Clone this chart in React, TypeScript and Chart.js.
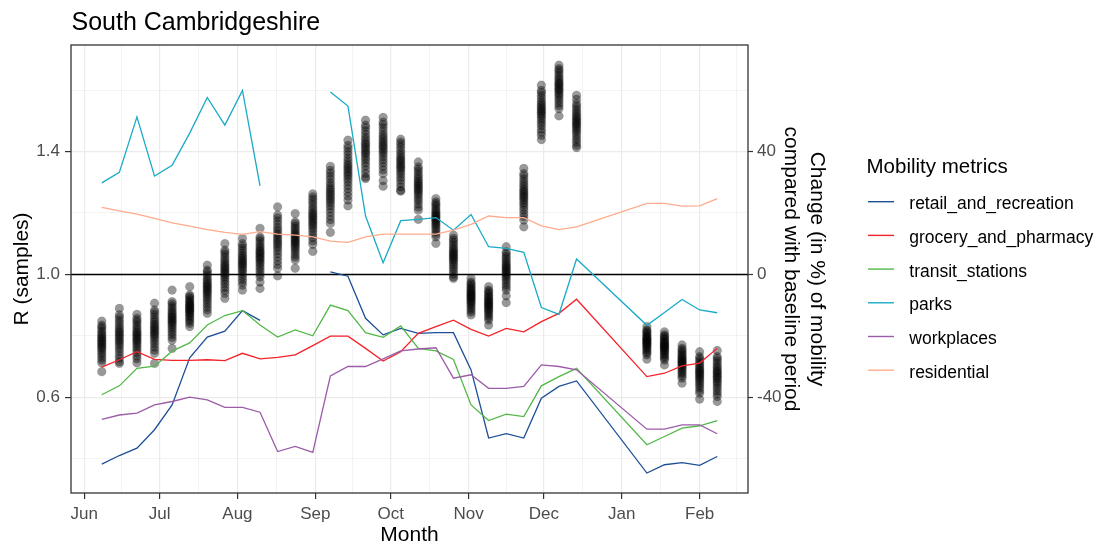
import React, { useEffect, useRef } from 'react';
import { Chart, registerables } from 'chart.js';

Chart.register(...registerables);

// ---- data ----
// days since 1 June 2020
const weekDays = [7, 14, 21, 28, 35, 42, 49, 56, 63, 70, 77, 84, 91, 98, 105, 112, 119, 126, 133, 140, 147, 154, 161, 168, 175, 182, 189, 196, 224, 231, 238, 245, 252];
const monthTickDays = [0, 30, 61, 92, 122, 153, 183, 214, 245];
const monthTickLabels = ['Jun', 'Jul', 'Aug', 'Sep', 'Oct', 'Nov', 'Dec', 'Jan', 'Feb'];
const minorDayBreaks = [15, 45.5, 76.5, 107, 137.5, 168, 198.5, 229.5, 259.5];
const rMajorTicks = [0.6, 1.0, 1.4];
const rMinorTicks = [0.4, 0.8, 1.2, 1.6];
const pctTicks = [-40, 0, 40];
const referenceR = 1.0;

const rSamples: number[][] = [
  [0.683, 0.712, 0.721, 0.729, 0.738, 0.745, 0.753, 0.759, 0.765, 0.770, 0.775, 0.780, 0.785, 0.790, 0.795, 0.801, 0.807, 0.814, 0.822, 0.829, 0.835, 0.848],
  [0.710, 0.716, 0.727, 0.737, 0.748, 0.757, 0.766, 0.774, 0.781, 0.787, 0.794, 0.800, 0.806, 0.812, 0.818, 0.825, 0.833, 0.842, 0.851, 0.860, 0.868, 0.889],
  [0.712, 0.725, 0.734, 0.744, 0.753, 0.761, 0.769, 0.775, 0.782, 0.787, 0.792, 0.798, 0.803, 0.808, 0.813, 0.820, 0.827, 0.835, 0.843, 0.850, 0.857, 0.870],
  [0.710, 0.743, 0.753, 0.763, 0.773, 0.781, 0.790, 0.797, 0.804, 0.809, 0.815, 0.821, 0.826, 0.832, 0.838, 0.845, 0.852, 0.860, 0.869, 0.877, 0.884, 0.906],
  [0.759, 0.786, 0.795, 0.804, 0.812, 0.820, 0.827, 0.834, 0.840, 0.845, 0.850, 0.855, 0.860, 0.865, 0.870, 0.876, 0.882, 0.890, 0.897, 0.905, 0.911, 0.949],
  [0.830, 0.840, 0.847, 0.853, 0.860, 0.865, 0.871, 0.875, 0.880, 0.884, 0.887, 0.891, 0.895, 0.899, 0.902, 0.907, 0.912, 0.917, 0.923, 0.928, 0.933, 0.960],
  [0.873, 0.884, 0.893, 0.902, 0.911, 0.919, 0.927, 0.933, 0.940, 0.945, 0.950, 0.956, 0.961, 0.966, 0.971, 0.978, 0.984, 0.992, 1.000, 1.008, 1.014, 1.030],
  [0.922, 0.938, 0.948, 0.958, 0.968, 0.976, 0.985, 0.992, 0.999, 1.004, 1.010, 1.016, 1.021, 1.027, 1.033, 1.040, 1.047, 1.055, 1.064, 1.072, 1.079, 1.100],
  [0.949, 0.965, 0.975, 0.984, 0.993, 1.002, 1.010, 1.016, 1.023, 1.029, 1.034, 1.039, 1.045, 1.050, 1.056, 1.062, 1.069, 1.077, 1.085, 1.093, 1.100, 1.117],
  [0.954, 0.975, 0.992, 1.001, 1.010, 1.019, 1.027, 1.035, 1.041, 1.048, 1.053, 1.058, 1.064, 1.069, 1.074, 1.079, 1.086, 1.092, 1.100, 1.108, 1.116, 1.122, 1.150],
  [0.995, 1.020, 1.032, 1.044, 1.056, 1.067, 1.077, 1.086, 1.094, 1.101, 1.108, 1.115, 1.122, 1.129, 1.136, 1.145, 1.153, 1.164, 1.174, 1.184, 1.193, 1.220],
  [1.020, 1.047, 1.056, 1.064, 1.073, 1.081, 1.088, 1.094, 1.100, 1.105, 1.110, 1.115, 1.120, 1.125, 1.130, 1.136, 1.143, 1.150, 1.157, 1.165, 1.171, 1.198],
  [1.075, 1.098, 1.109, 1.120, 1.130, 1.140, 1.149, 1.157, 1.164, 1.170, 1.177, 1.183, 1.189, 1.195, 1.201, 1.209, 1.217, 1.226, 1.235, 1.244, 1.252, 1.262],
  [1.137, 1.166, 1.178, 1.190, 1.202, 1.213, 1.223, 1.232, 1.240, 1.247, 1.254, 1.261, 1.268, 1.275, 1.282, 1.291, 1.299, 1.310, 1.320, 1.330, 1.339, 1.352],
  [1.223, 1.242, 1.255, 1.267, 1.279, 1.290, 1.301, 1.310, 1.319, 1.326, 1.333, 1.340, 1.347, 1.354, 1.361, 1.370, 1.379, 1.390, 1.400, 1.411, 1.420, 1.437],
  [1.312, 1.317, 1.329, 1.341, 1.353, 1.363, 1.373, 1.381, 1.390, 1.396, 1.403, 1.410, 1.417, 1.424, 1.430, 1.439, 1.447, 1.457, 1.467, 1.478, 1.486, 1.502],
  [1.287, 1.305, 1.328, 1.340, 1.352, 1.363, 1.373, 1.383, 1.392, 1.400, 1.407, 1.414, 1.420, 1.427, 1.434, 1.441, 1.449, 1.457, 1.467, 1.478, 1.488, 1.496, 1.511],
  [1.271, 1.274, 1.285, 1.296, 1.307, 1.316, 1.326, 1.334, 1.342, 1.348, 1.354, 1.360, 1.367, 1.373, 1.379, 1.387, 1.395, 1.404, 1.414, 1.423, 1.431, 1.440],
  [1.179, 1.209, 1.219, 1.229, 1.239, 1.247, 1.256, 1.263, 1.270, 1.275, 1.281, 1.287, 1.292, 1.298, 1.304, 1.311, 1.318, 1.326, 1.335, 1.343, 1.350, 1.366],
  [1.101, 1.122, 1.130, 1.138, 1.146, 1.153, 1.160, 1.165, 1.171, 1.176, 1.180, 1.185, 1.189, 1.194, 1.198, 1.204, 1.210, 1.217, 1.224, 1.230, 1.236, 1.247],
  [0.987, 0.992, 1.001, 1.010, 1.018, 1.026, 1.033, 1.040, 1.046, 1.051, 1.056, 1.061, 1.066, 1.071, 1.076, 1.082, 1.088, 1.096, 1.103, 1.111, 1.117, 1.128],
  [0.868, 0.877, 0.884, 0.891, 0.898, 0.904, 0.909, 0.914, 0.919, 0.923, 0.927, 0.931, 0.935, 0.939, 0.943, 0.948, 0.953, 0.958, 0.964, 0.970, 0.975, 0.987],
  [0.835, 0.851, 0.858, 0.865, 0.872, 0.878, 0.883, 0.888, 0.893, 0.897, 0.901, 0.905, 0.909, 0.913, 0.917, 0.922, 0.927, 0.932, 0.938, 0.944, 0.949, 0.960],
  [0.908, 0.930, 0.949, 0.958, 0.966, 0.975, 0.983, 0.990, 0.996, 1.002, 1.007, 1.012, 1.017, 1.022, 1.027, 1.032, 1.038, 1.045, 1.052, 1.059, 1.067, 1.073, 1.090],
  [1.155, 1.177, 1.188, 1.198, 1.209, 1.218, 1.227, 1.234, 1.242, 1.248, 1.254, 1.260, 1.266, 1.272, 1.278, 1.286, 1.293, 1.302, 1.311, 1.321, 1.328, 1.345],
  [1.439, 1.453, 1.463, 1.473, 1.484, 1.492, 1.501, 1.509, 1.516, 1.522, 1.528, 1.533, 1.539, 1.545, 1.551, 1.558, 1.565, 1.574, 1.583, 1.592, 1.599, 1.616],
  [1.516, 1.540, 1.549, 1.558, 1.567, 1.575, 1.583, 1.589, 1.596, 1.601, 1.606, 1.612, 1.617, 1.622, 1.627, 1.634, 1.640, 1.648, 1.656, 1.664, 1.670, 1.681],
  [1.413, 1.420, 1.430, 1.439, 1.448, 1.457, 1.465, 1.471, 1.478, 1.484, 1.489, 1.494, 1.500, 1.505, 1.511, 1.517, 1.524, 1.532, 1.540, 1.548, 1.556, 1.570, 1.583],
  [0.724, 0.738, 0.744, 0.749, 0.755, 0.760, 0.765, 0.769, 0.773, 0.776, 0.779, 0.783, 0.786, 0.789, 0.792, 0.796, 0.800, 0.805, 0.810, 0.815, 0.819, 0.830],
  [0.705, 0.721, 0.727, 0.732, 0.738, 0.743, 0.748, 0.752, 0.756, 0.760, 0.763, 0.766, 0.769, 0.773, 0.776, 0.780, 0.784, 0.789, 0.794, 0.799, 0.803, 0.813],
  [0.646, 0.662, 0.669, 0.676, 0.682, 0.688, 0.694, 0.699, 0.704, 0.708, 0.712, 0.715, 0.719, 0.723, 0.727, 0.732, 0.737, 0.743, 0.748, 0.754, 0.759, 0.770],
  [0.594, 0.613, 0.621, 0.630, 0.638, 0.645, 0.652, 0.658, 0.664, 0.669, 0.674, 0.679, 0.683, 0.688, 0.693, 0.699, 0.705, 0.712, 0.719, 0.726, 0.732, 0.748],
  [0.586, 0.602, 0.611, 0.620, 0.629, 0.637, 0.645, 0.651, 0.658, 0.663, 0.668, 0.674, 0.679, 0.684, 0.689, 0.696, 0.702, 0.710, 0.718, 0.726, 0.732, 0.752],
];

// mobility change (%) at each week, aligned with weekDays
const retailAndRecreation = [-61.8, -59, -56.6, -50.6, -42.5, -27.2, -20.4, -18.5, -11.8, -15, null, null, null, 0.8, -0.6, -14.3, -19.7, -17.6, -19.2, -19, -19, -31.1, -53.3, -51.9, -53.3, -40.3, -36.5, -34.7, -64.7, -62, -61.3, -62.2, -59.3];
const groceryAndPharmacy = [-30.2, -27.8, -25.2, -27.7, -28, -28, -27.8, -28.1, -25.7, -27.5, -27, -26.2, -23.2, -20.1, -20.1, -24.1, -28.2, -25.2, -19.2, -17, -14.9, -17.9, -20.1, -17.6, -18.7, -15.4, -12.7, -8.1, -33.3, -32.2, -29.8, -28.9, -24.1];
const transitStations = [-39.2, -36.3, -30.6, -29.9, -25, -22.3, -16.5, -13.4, -11.8, -16.5, -20.4, -18.1, -20, -10, -11.8, -19, -20.5, -16.8, -24.1, -24.9, -27.7, -42.5, -47.6, -45.5, -46.3, -36.3, -33.3, -30.6, -55.5, -52.8, -50.1, -49.3, -47.6];
const parks = [29.8, 33.2, 51.3, 32, 35.5, 46, 57.6, 48.6, 59.9, 28.8, null, null, null, 59.4, 54.8, 19, 3.8, 17.5, 17.9, 18.5, 14.4, 19.5, 9, 8.5, 7.2, -10.8, -13, 5, -16.6, -12.4, -8.2, -11.6, -12.5];
const workplaces = [-47.2, -45.8, -45.2, -42.5, -41.4, -40, -40.9, -43.3, -43.3, -44.9, -57.7, -56, -58, -33.1, -30, -30, -27.5, -24.9, -24.3, -23.9, -33.8, -32.7, -37.1, -37.1, -36.5, -29.5, -30, -31.1, -50.4, -50.4, -49, -49, -51.9];
const residential = [21.8, 20.7, 19.6, 18.2, 16.8, 15.7, 14.6, 13.7, 13, 13.9, 13.1, 12.8, 12.2, 10.8, 10.4, 12.2, 13.1, 13.1, 13.1, 13.1, 14.4, 16.3, 19, 18.5, 18.5, 15.8, 14.6, 15.5, 23.1, 23.1, 22.2, 22.3, 24.7];

const metricNames = ['retail_and_recreation', 'grocery_and_pharmacy', 'transit_stations', 'parks', 'workplaces', 'residential'];
const metricSeries = [retailAndRecreation, groceryAndPharmacy, transitStations, parks, workplaces, residential];
const metricColors = ['#1d4f97', '#f5222a', '#52b848', '#19aac6', '#9b5ca8', '#ffab8c'];

const FONT = '"Liberation Sans", Arial, Helvetica, sans-serif';
const R_MIN = 0.288;
const R_MAX = 1.747;

const near = (a: number, list: number[]) => list.some((v) => Math.abs(v - a) < 1e-6);

export default function App() {
  const canvasRef = useRef<HTMLCanvasElement | null>(null);

  useEffect(() => {
    if (!canvasRef.current) return;
    Chart.defaults.font.family = FONT;

    const scatterPoints: { x: number; y: number }[] = [];
    weekDays.forEach((d, i) => rSamples[i].forEach((v) => scatterPoints.push({ x: d, y: v })));

    const lineSets = metricSeries.map((vals, k) => ({
      type: 'line' as const,
      label: metricNames[k],
      data: weekDays.map((d, i) => ({ x: d, y: vals[i] })),
      yAxisID: 'y2',
      borderColor: metricColors[k],
      backgroundColor: metricColors[k],
      borderWidth: 1.3,
      pointRadius: 0,
      pointHoverRadius: 0,
      fill: false,
      tension: 0,
      spanGaps: false,
      order: 6 - k,
    }));

    const decor = {
      id: 'decor',
      beforeDatasetsDraw(chart: any) {
        const { ctx, chartArea, scales } = chart;
        const y = Math.round(scales.y.getPixelForValue(referenceR)) + 0.5;
        ctx.save();
        ctx.strokeStyle = '#000000';
        ctx.lineWidth = 1.3;
        ctx.beginPath();
        ctx.moveTo(chartArea.left, y);
        ctx.lineTo(chartArea.right, y);
        ctx.stroke();
        ctx.restore();
      },
      afterDraw(chart: any) {
        const { ctx, chartArea } = chart;
        ctx.save();
        // panel border
        ctx.strokeStyle = '#333333';
        ctx.lineWidth = 1.3;
        ctx.strokeRect(chartArea.left, chartArea.top, chartArea.right - chartArea.left, chartArea.bottom - chartArea.top);
        // title
        ctx.fillStyle = '#000000';
        ctx.textBaseline = 'alphabetic';
        ctx.textAlign = 'left';
        ctx.font = `25px ${FONT}`;
        ctx.fillText('South Cambridgeshire', 71.5, 29.5);
        // legend
        ctx.font = `20.5px ${FONT}`;
        ctx.fillText('Mobility metrics', 866.5, 172.7);
        ctx.font = `17.5px ${FONT}`;
        metricNames.forEach((name, k) => {
          const y = 201.7 + k * 33.7;
          ctx.strokeStyle = metricColors[k];
          ctx.lineWidth = 1.4;
          ctx.beginPath();
          ctx.moveTo(868, y);
          ctx.lineTo(894, y);
          ctx.stroke();
          ctx.fillStyle = '#000000';
          ctx.fillText(name, 909.3, y + 7.6);
        });
        ctx.restore();
      },
    };

    const chart = new Chart(canvasRef.current, {
      type: 'scatter',
      data: {
        datasets: [
          ...lineSets,
          {
            type: 'scatter' as const,
            label: 'R samples',
            data: scatterPoints,
            yAxisID: 'y',
            pointRadius: 4.4,
            pointHoverRadius: 4.4,
            backgroundColor: 'rgba(0,0,0,0.4)',
            borderColor: 'rgba(0,0,0,0.12)',
            borderWidth: 0.8,
            order: 20,
          },
        ] as any,
      },
      options: {
        animation: false,
        responsive: false,
        events: [],
        layout: { padding: { top: 45, left: 0, bottom: 0, right: 274 } },
        plugins: { legend: { display: false }, title: { display: false }, tooltip: { enabled: false } },
        scales: {
          x: {
            type: 'linear',
            min: -5.25,
            max: 264.25,
            afterBuildTicks: (s: any) => {
              s.ticks = [...monthTickDays, ...minorDayBreaks].sort((a, b) => a - b).map((v) => ({ value: v }));
            },
            afterFit: (s: any) => { s.height = 58; },
            ticks: {
              autoSkip: false,
              maxRotation: 0,
              minRotation: 0,
              padding: 5,
              color: '#4d4d4d',
              font: { size: 17 },
              callback: (v: any) => {
                const i = monthTickDays.findIndex((d) => Math.abs(d - Number(v)) < 1e-6);
                return i >= 0 ? monthTickLabels[i] : '';
              },
            },
            grid: {
              color: '#ebebeb',
              lineWidth: (c: any) => (c.tick && near(c.tick.value, monthTickDays) ? 1.2 : 0.6),
              tickLength: 6,
              tickColor: (c: any) => (c.tick && near(c.tick.value, monthTickDays) ? '#333333' : 'rgba(0,0,0,0)'),
              tickWidth: 1.2,
            },
            border: { display: false },
            title: { display: true, text: 'Month', color: '#000000', font: { size: 21 }, padding: { top: 0, bottom: 3 } },
          },
          y: {
            type: 'linear',
            position: 'left',
            min: R_MIN,
            max: R_MAX,
            afterBuildTicks: (s: any) => {
              s.ticks = [...rMinorTicks, ...rMajorTicks].sort((a, b) => a - b).map((v) => ({ value: v }));
            },
            afterFit: (s: any) => { s.width = 71; },
            ticks: {
              autoSkip: false,
              padding: 5,
              color: '#4d4d4d',
              font: { size: 17 },
              callback: (v: any) => (near(Number(v), rMajorTicks) ? Number(v).toFixed(1) : ''),
            },
            grid: {
              color: '#ebebeb',
              lineWidth: (c: any) => (c.tick && near(c.tick.value, rMajorTicks) ? 1.2 : 0.6),
              tickLength: 6,
              tickColor: (c: any) => (c.tick && near(c.tick.value, rMajorTicks) ? '#333333' : 'rgba(0,0,0,0)'),
              tickWidth: 1.2,
            },
            border: { display: false },
            title: { display: true, text: 'R (samples)', color: '#000000', font: { size: 21 }, padding: { top: 10, bottom: 0 } },
          },
          y2: {
            type: 'linear',
            position: 'right',
            min: (R_MIN - 1) * 100,
            max: (R_MAX - 1) * 100,
            afterBuildTicks: (s: any) => {
              s.ticks = pctTicks.map((v) => ({ value: v }));
            },
            afterFit: (s: any) => { s.width = 82; },
            ticks: {
              autoSkip: false,
              padding: 4,
              color: '#4d4d4d',
              font: { size: 17 },
              callback: (v: any) => String(v),
            },
            grid: { drawOnChartArea: false, tickLength: 5, tickColor: '#333333', tickWidth: 1.2 },
            border: { display: false },
            title: {
              display: true,
              text: ['Change (in %) of mobility', 'compared with baseline period'],
              color: '#000000',
              font: { size: 21, lineHeight: 1.24 },
              padding: { top: 0, bottom: 0 },
            },
          },
        },
      } as any,
      plugins: [decor],
    });

    return () => chart.destroy();
  }, []);

  return (
    <div style={{ position: 'absolute', left: 0, top: 0, width: 1104, height: 551, background: '#ffffff' }}>
      <canvas ref={canvasRef} width={1104} height={551} style={{ width: 1104, height: 551, display: 'block' }} />
    </div>
  );
}
